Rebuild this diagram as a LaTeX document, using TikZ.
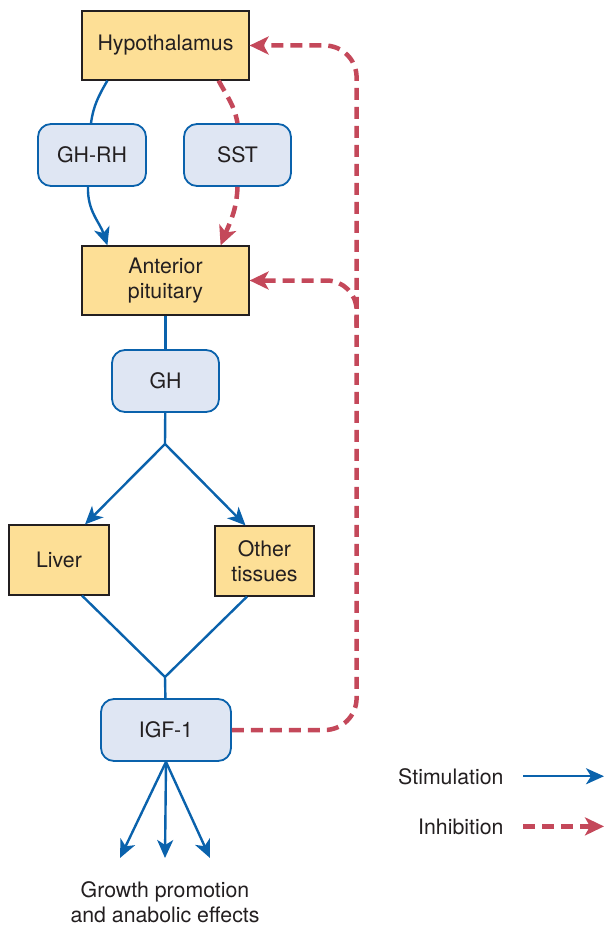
\documentclass[tikz,border=0pt]{standalone}
\usepackage{fontspec}
\setmainfont{TeX Gyre Heros}
\usetikzlibrary{arrows.meta,calc}
\definecolor{boxyellow}{RGB}{253,223,150}
\definecolor{hfill}{RGB}{223,230,243}
\definecolor{hblue}{RGB}{10,98,172}
\definecolor{ired}{RGB}{196,72,90}
\definecolor{inkgray}{RGB}{35,31,32}
\begin{document}
\begin{tikzpicture}[x=1pt,y=1pt,
  font=\fontsize{21.3}{25}\selectfont, text=inkgray,
  organ/.style={draw=inkgray, line width=1.2pt, fill=boxyellow, align=center, inner sep=0pt},
  hormone/.style={draw=hblue, line width=1.8pt, fill=hfill, rounded corners=13pt, inner sep=0pt,
    minimum height=62pt},
  link/.style={draw=hblue, line width=2.4pt},
  stim/.style={link, -{Stealth[length=18pt,width=16pt,inset=5pt]}},
  inh/.style={draw=ired, line width=4.5pt, dash pattern=on 12pt off 7pt,
    -{Stealth[length=19pt,width=18pt,inset=5pt]}}
]
\useasboundingbox (0,0) rectangle (605,-925);

% glands and target organs
\node[organ, minimum width=167pt, minimum height=69pt] (hyp) at (165.5,-45.5) {Hypothalamus};
\node[organ, minimum width=167pt, minimum height=69pt] (ant) at (165.5,-280.5) {Anterior\\pituitary};
\node[organ, minimum width=100pt, minimum height=70pt] (liver) at (59,-560) {Liver};
\node[organ, minimum width=99pt, minimum height=70pt] (other) at (264.5,-561) {Other\\tissues};

% hormones
\node[hormone, minimum width=108pt] (ghrh) at (92,-155) {GH-RH};
\node[hormone, minimum width=107pt] (sst) at (237.5,-155) {SST};
\node[hormone, minimum width=107pt] (gh) at (165.5,-381) {GH};
\node[hormone, minimum width=130pt] (igf) at (166,-730) {IGF-1};

% junction points
\coordinate (split) at (165,-444);
\coordinate (merge) at (165,-677);
\coordinate (g1) at (120,-858);
\coordinate (g2) at (165,-858);
\coordinate (g3) at (210,-858);

% hypothalamic control of the pituitary
\draw[link] ($(hyp.south west)+(26,0)$) to[out=240,in=82] ($(ghrh.north)+(-1,0)$);
\draw[stim] ($(ghrh.south)+(-4,0)$) to[out=268,in=108] ($(ant.north west)+(26,0)$);
\draw[inh, -] ($(hyp.south east)+(-31,0)$) to[out=-62,in=100] (sst.north);
\draw[inh] (sst.south) to[out=268,in=68] ($(ant.north east)+(-29,0)$);

% GH and its targets
\draw[link] (ant) -- (gh);
\draw[link] (gh) -- (split);
\draw[stim] (split) -- ($(liver.north)+(26,0)$);
\draw[stim] (split) -- ($(other.north)+(-19,0)$);
\draw[link] ($(liver.south)+(23,0)$) -- (merge);
\draw[link] ($(other.south)+(-17.5,0)$) -- (merge);
\draw[link] (merge) -- (igf);

% IGF-1 effects
\draw[stim] (igf.south) -- (g1);
\draw[stim] (igf.south) -- (g2);
\draw[stim] (igf.south) -- (g3);
\node[align=center, anchor=base] (growth) at (165,-922) {Growth promotion\\and anabolic effects};

% negative feedback of IGF-1
\draw[inh, rounded corners=32pt] (igf.east) -| ($(hyp.east)+(107,0)$) -- (hyp.east);
\draw[inh, rounded corners=30pt] ($(ant.east)+(107,-46)$) |- (ant.east);

% legend
\node[anchor=base east] (lstim) at (507,-784) {Stimulation};
\node[anchor=base east] (linh) at (507,-834) {Inhibition};
\draw[stim] ([xshift=16pt]lstim.east) -- ++(81,0);
\draw[inh] ([xshift=16pt]linh.east) -- ++(81,0);
\end{tikzpicture}
\end{document}
